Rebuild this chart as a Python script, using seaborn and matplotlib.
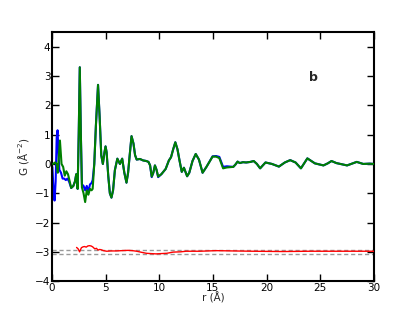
import matplotlib
matplotlib.use("Agg")
import matplotlib.pyplot as plt
import seaborn as sns
import pandas as pd

# ---- data ----
r_fit = [0.1, 0.3, 0.45, 0.55, 0.75, 0.9, 1.05, 1.2, 1.35, 1.5, 1.6, 1.8, 2.0, 2.15, 2.27, 2.4,
         2.5, 2.6, 2.7, 2.8, 2.95, 3.1, 3.25, 3.4, 3.55, 3.7, 3.8, 3.95, 4.1, 4.3, 4.45, 4.6,
         4.75, 4.9, 5.0, 5.1, 5.25, 5.4, 5.55, 5.7, 5.87, 6.1, 6.34, 6.55, 6.75, 6.95, 7.1,
         7.25, 7.42, 7.6, 7.75, 7.9, 8.2, 8.5, 8.8, 9.0, 9.15, 9.3, 9.45, 9.6, 9.75, 9.9,
         10.2, 10.6, 10.9, 11.1, 11.3, 11.5, 11.7, 11.9, 12.1, 12.3, 12.6, 12.8, 13.1, 13.4,
         13.7, 14.04, 14.4, 14.97, 15.3, 15.6, 15.95, 16.3, 16.9, 17.1, 17.3, 17.5, 17.8,
         18.1, 18.5, 18.8, 19.1, 19.4, 19.9, 20.5, 21.15, 21.7, 22.2, 22.7, 23.2, 23.5,
         23.8, 24.5, 25.3, 25.7, 26.05, 26.5, 27.5, 28.4, 29.0, 29.6, 30.0]
g_fit = [0.0, 0.05, 0.0, -0.3, 0.8, 0.0, -0.1, -0.4, -0.25, -0.35, -0.5, -0.82, -0.75, -0.6, -0.35, -0.85,
         1.0, 3.3, 1.0, -0.8, -1.0, -1.3, -0.9, -1.05, -0.85, -0.9, -0.85, 0.0, 1.3, 2.7, 1.6, 0.3,
         0.0, 0.4, 0.6, 0.4, -0.4, -1.0, -1.15, -0.9, -0.21, 0.18, 0.0, 0.18, -0.3, -0.64, -0.3,
         0.3, 0.95, 0.7, 0.3, 0.15, 0.17, 0.12, 0.1, 0.07, -0.05, -0.43, -0.3, -0.05, -0.2, -0.43,
         -0.35, -0.17, 0.12, 0.23, 0.5, 0.74, 0.5, 0.1, -0.27, -0.13, -0.42, -0.3, 0.1, 0.34,
         0.15, -0.3, -0.1, 0.25, 0.25, 0.2, -0.15, -0.12, -0.1, -0.02, 0.08, 0.03, 0.06,
         0.05, 0.07, 0.1, 0.0, -0.15, 0.05, 0.0, -0.09, 0.05, 0.13, 0.05, -0.15, 0.02,
         0.19, 0.02, -0.05, 0.02, 0.1, 0.03, -0.05, 0.07, 0.0, 0.01, 0.0]

r_data = [0.05, 0.15, 0.25, 0.35, 0.45, 0.53, 0.62, 0.7, 0.85, 1.0, 1.15, 1.3, 1.45, 1.6, 1.8, 2.0,
          2.15, 2.27, 2.4, 2.5, 2.6, 2.7, 2.8, 2.95, 3.1, 3.25, 3.4, 3.55, 3.7, 3.8, 3.95, 4.1,
          4.3, 4.45, 4.6, 4.75, 4.9, 5.0, 5.1, 5.25, 5.4, 5.55, 5.7, 5.87, 6.1, 6.34, 6.55,
          6.75, 6.95, 7.1, 7.25, 7.42, 7.6, 7.75, 7.9, 8.2, 8.5, 8.8, 9.0, 9.15, 9.3, 9.45,
          9.6, 9.75, 9.9, 10.2, 10.6, 10.9, 11.1, 11.3, 11.5, 11.7, 11.9, 12.1, 12.3, 12.6,
          12.8, 13.1, 13.4, 13.7, 14.04, 14.4, 14.97, 15.3, 15.6, 15.95, 16.3, 16.9, 17.1,
          17.3, 17.5, 17.8, 18.1, 18.5, 18.8, 19.1, 19.4, 19.9, 20.5, 21.15, 21.7, 22.2,
          22.7, 23.2, 23.5, 23.8, 24.5, 25.3, 25.7, 26.05, 26.5, 27.5, 28.4, 29.0, 29.6, 30.0]
g_data = [-0.1, -0.9, -1.25, -0.6, 0.9, 1.15, 0.3, -0.2, -0.3, -0.5, -0.5, -0.55, -0.5, -0.6, -0.82, -0.75,
          -0.6, -0.35, -0.85, 1.0, 3.3, 1.0, -0.7, -0.75, -0.9, -0.75, -0.95, -0.7, -0.65, -0.55, 0.0, 1.3,
          2.7, 1.6, 0.3, 0.0, 0.4, 0.6, 0.4, -0.4, -1.0, -1.15, -0.9, -0.21, 0.18, 0.0, 0.18,
          -0.3, -0.64, -0.3, 0.3, 0.95, 0.7, 0.3, 0.15, 0.17, 0.12, 0.1, 0.07, -0.05, -0.45, -0.3,
          -0.05, -0.2, -0.45, -0.35, -0.17, 0.12, 0.23, 0.5, 0.74, 0.5, 0.1, -0.27, -0.13, -0.42,
          -0.3, 0.1, 0.34, 0.15, -0.3, -0.1, 0.26, 0.27, 0.24, -0.1, -0.08, -0.1, -0.02,
          0.08, 0.03, 0.06, 0.05, 0.07, 0.1, 0.0, -0.15, 0.05, 0.0, -0.09, 0.05, 0.13,
          0.05, -0.15, 0.02, 0.19, 0.02, -0.05, 0.02, 0.1, 0.03, -0.05, 0.07, 0.0, 0.01, 0.0]

r_diff = [2.3, 2.45, 2.58, 2.75, 2.9, 3.05, 3.2, 3.35, 3.5, 3.65, 3.8, 4.0, 4.15, 4.3, 4.45, 4.6,
          4.8, 5.1, 5.5, 6.0, 6.5, 7.1, 7.5, 7.9, 8.4, 8.8, 9.2, 9.7, 10.2, 10.7, 11.3, 12.0,
          12.5, 13.8, 15.3, 16.9, 18.7, 21.5, 24.0, 26.2, 28.0, 30.0]
g_diff = [-2.85, -2.9, -3.0, -2.86, -2.83, -2.82, -2.84, -2.8, -2.79, -2.8, -2.83, -2.9, -2.88, -2.94, -2.92, -2.93,
          -2.96, -2.98, -2.97, -2.97, -2.96, -2.95, -2.96, -2.98, -3.02, -3.05, -3.06, -3.07, -3.06, -3.05, -3.01, -3.0,
          -2.98, -2.98, -2.96, -2.97, -2.98, -2.99, -2.98, -2.98, -2.98, -2.98]

band_levels = [-2.94, -3.06]

x_ticks = [0, 5, 10, 15, 20, 25, 30]
y_ticks = [-4, -3, -2, -1, 0, 1, 2, 3, 4]

# ---- figure ----
sns.set_style("ticks")
plt.rcParams['font.family'] = ['DejaVu Sans']
plt.rcParams['mathtext.default'] = 'regular'

fig = plt.figure(figsize=(4.15, 3.12), dpi=100)
ax = fig.add_axes([0.125, 0.099, 0.776, 0.798])

for lvl in band_levels:
    ax.axhline(lvl, color="#999999", linestyle=(0, (3, 2)), linewidth=1.0, zorder=1)

df_data = pd.DataFrame({"r": r_data, "G": g_data})
df_fit = pd.DataFrame({"r": r_fit, "G": g_fit})
df_diff = pd.DataFrame({"r": r_diff, "G": g_diff})

sns.lineplot(data=df_data, x="r", y="G", ax=ax, color="#0000ff", linewidth=1.5,
             estimator=None, sort=False, zorder=2)
sns.lineplot(data=df_fit, x="r", y="G", ax=ax, color="#008000", linewidth=1.5,
             estimator=None, sort=False, zorder=3)
sns.lineplot(data=df_diff, x="r", y="G", ax=ax, color="#ff0000", linewidth=1.0,
             estimator=None, sort=False, zorder=3)

ax.set_xlim(0, 30)
ax.set_ylim(-4, 4.5)
ax.set_xticks(x_ticks)
ax.set_yticks(y_ticks)
ax.set_xticklabels([str(t) for t in x_ticks])
ax.set_yticklabels([("\u2212%d" % -t) if t < 0 else str(t) for t in y_ticks])
ax.tick_params(direction="in", top=True, right=True, length=5, width=1,
               labelsize=7.5, pad=1, colors="black")
for s in ax.spines.values():
    s.set_linewidth(1.5)
    s.set_color("black")

ax.set_xlabel("r (Å)", fontsize=7.5, labelpad=0)
ax.set_ylabel("G (Å$^{-2}$)", fontsize=7.5, labelpad=3)

ax.text(24.4, 2.96, "b", fontsize=9, fontweight="bold", ha="center", va="center")

fig.savefig("out.png", dpi=100)
